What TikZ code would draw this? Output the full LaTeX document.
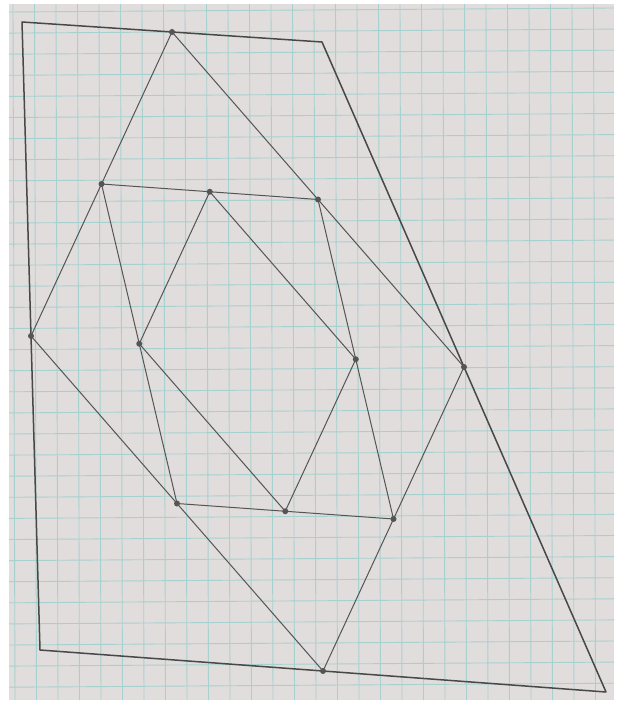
\documentclass[tikz,border=0pt]{standalone}
\usepackage{xcolor}
\definecolor{papergrey}{HTML}{E0DDDC}
\definecolor{gridteal}{HTML}{A6D1CE}
\definecolor{pencil}{HTML}{555555}
\usepackage{tikz}
\usetikzlibrary{calc,positioning}

\begin{document}
\begin{tikzpicture}[
  x=1pt, y=-1pt,
  gridline/.style={draw=gridteal, line width=0.9pt},
  stroke/.style={draw=pencil, line width=1pt, line join=round},
  outer/.style={stroke, draw=pencil!85!black, line width=1.5pt},
  vtx/.style={circle, fill=pencil, inner sep=0pt, minimum size=6pt}
]
  % page and paper
  \useasboundingbox (0,0) rectangle (618,703);
  \fill[white] (0,0) rectangle (618,703);
  \fill[papergrey] (9,4) rectangle (614,700);
  \begin{scope}
    \clip (9,4) rectangle (614,700);
    \foreach \gx in {0,...,28} {
      \draw[gridline] (13+21.5*\gx,4) -- (15+21.5*\gx,700);
    }
    \foreach \gy in {0,...,33} {
      \draw[gridline] (9,12+21.1*\gy) -- (614,8+21.1*\gy);
    }
  \end{scope}

  % outer quadrilateral
  \coordinate (tl) at (22,22);
  \coordinate (tr) at (322,42);
  \coordinate (br) at (606,692);
  \coordinate (bl) at (40,650);
  \draw[outer] (tl) -- (tr) -- (br) -- (bl) -- cycle;

  % second ring
  \node[vtx] (a1) at ($(tl)!0.5!(tr)$) {};
  \node[vtx] (a2) at ($(tr)!0.5!(br)$) {};
  \node[vtx] (a3) at ($(br)!0.5!(bl)$) {};
  \node[vtx] (a4) at ($(bl)!0.5!(tl)$) {};
  \draw[stroke] (a1.center) -- (a2.center) -- (a3.center) -- (a4.center) -- cycle;

  % third ring
  \node[vtx] (b1) at ($(a4)!0.5!(a1)$) {};
  \node[vtx] (b2) at ($(a1)!0.5!(a2)$) {};
  \node[vtx] (b3) at ($(a2)!0.5!(a3)$) {};
  \node[vtx] (b4) at ($(a3)!0.5!(a4)$) {};
  \draw[stroke] (b1.center) -- (b2.center) -- (b3.center) -- (b4.center) -- cycle;

  % inner ring
  \node[vtx] (c1) at ($(b1)!0.5!(b2)$) {};
  \node[vtx] (c2) at ($(b2)!0.5!(b3)$) {};
  \node[vtx] (c3) at ($(b3)!0.5!(b4)$) {};
  \node[vtx] (c4) at ($(b4)!0.5!(b1)$) {};
  \draw[stroke] (c1.center) -- (c2.center) -- (c3.center) -- (c4.center) -- cycle;
\end{tikzpicture}
\end{document}
